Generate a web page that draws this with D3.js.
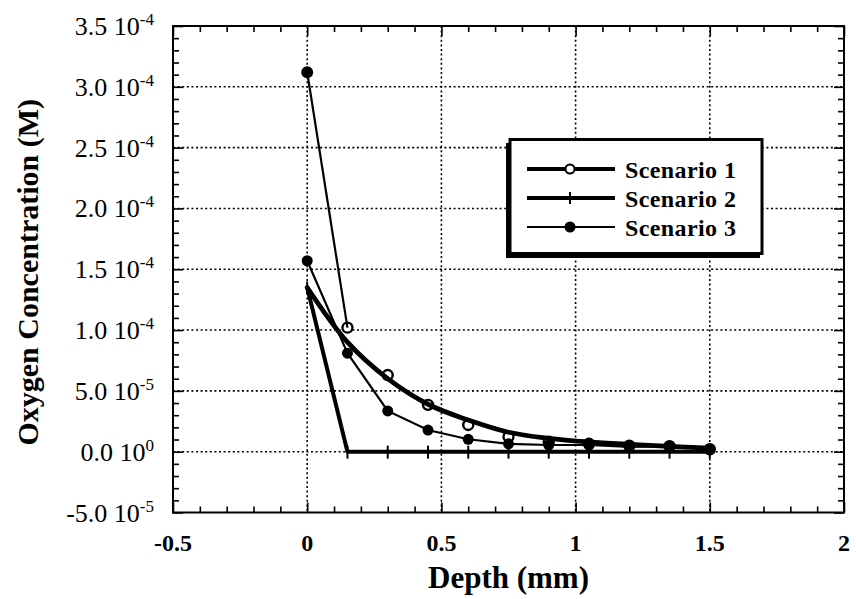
<!DOCTYPE html>
<html>
<head>
<meta charset="utf-8">
<script src="https://cdn.jsdelivr.net/npm/d3@7"></script>
<style>
  body { margin: 0; background: #fff; }
  svg { display: block; }
</style>
</head>
<body>
<svg id="chart" width="856" height="599"></svg>
<script>
// Depth sampling points (mm) shared by every series
const depth = [0, 0.15, 0.3, 0.45, 0.6, 0.75, 0.9, 1.05, 1.2, 1.35, 1.5];
// Scenario 1: smooth profile and its sampled points
const scenario1 = [1.35e-4, 9.0e-5, 6.0e-5, 3.9e-5, 2.6e-5, 1.6e-5, 1.1e-5, 8e-6, 6e-6, 4.3e-6, 3e-6];
const scenario1Points = [3.12e-4, 1.02e-4, 6.3e-5, 3.85e-5, 2.2e-5, 1.23e-5, 8.2e-6, 6.5e-6, 5e-6, 4.5e-6, 2e-6];
// Scenario 2: oxygen used up within the first layer
const scenario2 = [1.35e-4, 0, 0, 0, 0, 0, 0, 0, 0, 0, 0];
// Scenario 3
const scenario3 = [1.57e-4, 8.1e-5, 3.35e-5, 1.78e-5, 1.02e-5, 6.5e-6, 5.5e-6, 5.5e-6, 4e-6, 4.5e-6, 2e-6];

const legendLabels = ["Scenario 1", "Scenario 2", "Scenario 3"];
const xTicks = [-0.5, 0, 0.5, 1, 1.5, 2];
const xTickLabels = ["-0.5", "0", "0.5", "1", "1.5", "2"];
const yTicks = [-5e-5, 0, 5e-5, 1e-4, 1.5e-4, 2e-4, 2.5e-4, 3e-4, 3.5e-4];
const yTickMantissa = ["-5.0", "0.0", "5.0", "1.0", "1.5", "2.0", "2.5", "3.0", "3.5"];
const yTickExponent = ["-5", "0", "-5", "-4", "-4", "-4", "-4", "-4", "-4"];
const xTitle = "Depth (mm)";
const yTitle = "Oxygen Concentration (M)";

const svg = d3.select("#chart");
const pL = 173, pR = 844, pT = 26, pB = 512.5;
const serif = "'Liberation Serif', 'DejaVu Serif', serif";

const x = d3.scaleLinear().domain([-0.5, 2]).range([pL, pR]);
const y = d3.scaleLinear().domain([-5e-5, 3.5e-4]).range([pB, pT]);

// dotted grid at the major ticks
const grid = svg.append("g").attr("stroke", "#000").attr("stroke-width", 1.6)
  .attr("stroke-dasharray", "2,2.6").attr("fill", "none");
grid.selectAll("line.gx").data(xTicks.slice(1, -1)).join("line")
  .attr("x1", d => x(d)).attr("x2", d => x(d)).attr("y1", pT).attr("y2", pB);
grid.selectAll("line.gy").data(yTicks.slice(1, -1)).join("line")
  .attr("y1", d => y(d)).attr("y2", d => y(d)).attr("x1", pL).attr("x2", pR);

// inward ticks on all four sides
const xMinor = d3.range(-5, 21).map(i => i / 10).filter(v => Math.abs(v * 2 - Math.round(v * 2)) > 1e-9);
const yMinor = d3.range(-5, 36).filter(i => i % 5 !== 0).map(i => i * 1e-5);
function tickAxis(axisFn, scale, values, size, transform) {
  const g = svg.append("g").attr("transform", transform)
    .call(axisFn(scale).tickValues(values).tickSize(size).tickFormat(""));
  g.select(".domain").remove();
  g.selectAll(".tick line").attr("stroke", "#000").attr("stroke-width", 1.6);
}
tickAxis(d3.axisBottom, x, xTicks, -10, `translate(0,${pB})`);
tickAxis(d3.axisBottom, x, xMinor, -6, `translate(0,${pB})`);
tickAxis(d3.axisTop, x, xTicks, -10, `translate(0,${pT})`);
tickAxis(d3.axisTop, x, xMinor, -6, `translate(0,${pT})`);
tickAxis(d3.axisLeft, y, yTicks, -10, `translate(${pL},0)`);
tickAxis(d3.axisLeft, y, yMinor, -6, `translate(${pL},0)`);
tickAxis(d3.axisRight, y, yTicks, -10, `translate(${pR},0)`);
tickAxis(d3.axisRight, y, yMinor, -6, `translate(${pR},0)`);

// series
const pts = vals => depth.map((d, i) => [d, vals[i]]);
const straight = d3.line().x(d => x(d[0])).y(d => y(d[1]));
const smooth = d3.line().x(d => x(d[0])).y(d => y(d[1])).curve(d3.curveCatmullRom.alpha(0.5));
const plot = svg.append("g");

// open circles (scenario 1 samples) sit under the profile line
plot.selectAll("circle.s1").data(pts(scenario1Points).slice(1)).join("circle")
  .attr("cx", d => x(d[0])).attr("cy", d => y(d[1])).attr("r", 5)
  .attr("fill", "#fff").attr("stroke", "#000").attr("stroke-width", 2.4);

plot.append("path").datum(pts(scenario2)).attr("d", straight)
  .attr("fill", "none").attr("stroke", "#000").attr("stroke-width", 4).attr("stroke-linejoin", "round");
plot.append("path").datum(pts(scenario1)).attr("d", smooth)
  .attr("fill", "none").attr("stroke", "#000").attr("stroke-width", 4.8).attr("stroke-linecap", "round");
plot.append("path").datum(pts(scenario3)).attr("d", straight)
  .attr("fill", "none").attr("stroke", "#000").attr("stroke-width", 2.2);
// surface value joined to the first sampled depth
plot.append("path").datum(pts(scenario1Points).slice(0, 2)).attr("d", straight)
  .attr("fill", "none").attr("stroke", "#000").attr("stroke-width", 2.2);
plot.append("circle").datum(pts(scenario1Points)[0])
  .attr("cx", d => x(d[0])).attr("cy", d => y(d[1])).attr("r", 6).attr("fill", "#000");

// plus markers (scenario 2)
plot.selectAll("line.plus").data(pts(scenario2)).join("line")
  .attr("x1", d => x(d[0])).attr("x2", d => x(d[0]))
  .attr("y1", d => y(d[1]) - 6).attr("y2", d => y(d[1]) + 7)
  .attr("stroke", "#000").attr("stroke-width", 2);
// filled circles (scenario 3)
plot.selectAll("circle.s3").data(pts(scenario3)).join("circle")
  .attr("cx", d => x(d[0])).attr("cy", d => y(d[1])).attr("r", 5.5).attr("fill", "#000");

// frame
svg.append("rect").attr("x", pL).attr("y", pT).attr("width", pR - pL).attr("height", pB - pT)
  .attr("fill", "none").attr("stroke", "#000").attr("stroke-width", 2);

// tick labels
svg.append("g").selectAll("text").data(xTicks).join("text")
  .attr("x", d => x(d)).attr("y", 551).attr("text-anchor", "middle")
  .attr("font-family", serif).attr("font-weight", "bold").attr("font-size", 24)
  .text((d, i) => xTickLabels[i]);

const yl = svg.append("g").selectAll("text").data(yTicks).join("text")
  .attr("x", 154).attr("y", d => y(d) + 9).attr("text-anchor", "end")
  .attr("font-family", serif).attr("font-size", 26);
yl.append("tspan").text((d, i) => yTickMantissa[i] + " 10");
yl.append("tspan").attr("dy", -10).attr("font-size", 17).text((d, i) => yTickExponent[i]);

// axis titles
svg.append("text").attr("x", (pL + pR) / 2).attr("y", 588).attr("text-anchor", "middle")
  .attr("font-family", serif).attr("font-weight", "bold").attr("font-size", 31).text(xTitle);
svg.append("text").attr("transform", `translate(38,${(pT + pB) / 2 + 3}) rotate(-90)`)
  .attr("text-anchor", "middle")
  .attr("font-family", serif).attr("font-weight", "bold").attr("font-size", 30).text(yTitle);

// legend
const lg = svg.append("g");
lg.append("rect").attr("x", 506).attr("y", 143).attr("width", 254).attr("height", 115).attr("fill", "#000");
lg.append("rect").attr("x", 510).attr("y", 139.5).attr("width", 252).attr("height", 114)
  .attr("fill", "#fff").attr("stroke", "#000").attr("stroke-width", 3);
const rowY = [169, 198, 227];
const lineW = [4, 4, 2.2];
legendLabels.forEach((label, i) => {
  lg.append("line").attr("x1", 527).attr("x2", 615).attr("y1", rowY[i]).attr("y2", rowY[i])
    .attr("stroke", "#000").attr("stroke-width", lineW[i]);
  lg.append("text").attr("x", 625).attr("y", rowY[i] + 8.5)
    .attr("font-family", serif).attr("font-weight", "bold").attr("font-size", 24)
    .attr("letter-spacing", 0.4).text(label);
});
lg.append("circle").attr("cx", 570).attr("cy", rowY[0]).attr("r", 4.5)
  .attr("fill", "#fff").attr("stroke", "#000").attr("stroke-width", 2);
lg.append("line").attr("x1", 570).attr("x2", 570).attr("y1", rowY[1] - 6).attr("y2", rowY[1] + 6)
  .attr("stroke", "#000").attr("stroke-width", 2);
lg.append("circle").attr("cx", 570).attr("cy", rowY[2]).attr("r", 5.5).attr("fill", "#000");
</script>
</body>
</html>
